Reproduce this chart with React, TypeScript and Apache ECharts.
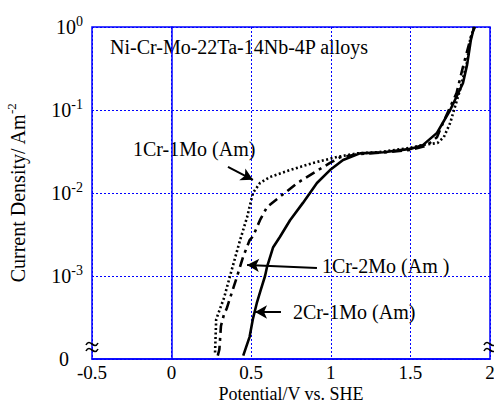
import React, { useEffect, useRef } from "react";
import * as echarts from "echarts";

const xTicks = [-0.5, 0, 0.5, 1, 1.5, 2];
const yDecades = [-4, -3, -2, -1, 0];

// 1Cr-1Mo (Am) dotted
const cr1mo1: [number, number][] = [
  [0.273, 1.2e-4], [0.28, 3e-4], [0.33, 5.5e-4], [0.367, 1e-3], [0.43, 2.7e-3],
  [0.474, 5.1e-3], [0.511, 1e-2], [0.555, 1.32e-2], [0.618, 1.56e-2], [0.744, 1.89e-2],
  [0.888, 2.3e-2], [1.039, 2.72e-2], [1.165, 3.0e-2], [1.3, 3.1e-2], [1.5, 3.5e-2],
  [1.58, 3.8e-2], [1.67, 4e-2], [1.71, 4.7e-2], [1.75, 7e-2], [1.81, 0.17],
  [1.855, 0.37], [1.875, 0.7], [1.9, 1.0],
];

// 1Cr-2Mo (Am) dash-dot
const cr1mo2: [number, number][] = [
  [0.29, 1.1e-4], [0.3, 1.3e-4], [0.31, 2.5e-4], [0.33, 3.5e-4], [0.345, 4e-4],
  [0.39, 7.4e-4], [0.41, 9.7e-4], [0.449, 1.7e-3], [0.49, 2.7e-3], [0.511, 3e-3],
  [0.555, 4.7e-3], [0.6, 6.8e-3], [0.68, 9e-3], [0.79, 1.32e-2], [0.89, 1.74e-2],
  [0.995, 2.3e-2], [1.06, 2.7e-2], [1.18, 2.95e-2], [1.35, 3.1e-2], [1.5, 3.3e-2],
  [1.6, 3.7e-2], [1.667, 4.7e-2], [1.705, 7e-2], [1.75, 0.109], [1.79, 0.16],
  [1.83, 0.33], [1.887, 0.85], [1.906, 1.0],
];

// 2Cr-1Mo (Am) solid
const cr2mo1: [number, number][] = [
  [0.45, 1.1e-4], [0.49, 1.85e-4], [0.51, 3e-4], [0.535, 4.7e-4], [0.56, 6.8e-4],
  [0.587, 1e-3], [0.6, 1.3e-3], [0.637, 2.2e-3], [0.68, 2.95e-3], [0.744, 4.7e-3],
  [0.825, 7.6e-3], [0.913, 1.32e-2], [0.995, 1.89e-2], [1.077, 2.5e-2], [1.183, 3.0e-2],
  [1.33, 3.1e-2], [1.5, 3.4e-2], [1.58, 3.8e-2], [1.667, 5.3e-2], [1.75, 0.1],
  [1.83, 0.21], [1.856, 0.35], [1.88, 0.7], [1.9, 1.0],
];

// annotation arrows [from, to] in data coordinates
const arrows: [[number, number], [number, number]][] = [
  [[0.354, 0.0206], [0.511, 0.0144]],
  [[0.913, 1.25e-3], [0.474, 1.36e-3]],
  [[0.687, 3.68e-4], [0.524, 3.68e-4]],
];

const FONT = "Liberation Serif";
const BLUE = "#0000ff";

function breakMark(cx: number, cy: number) {
  const wave = (y: number) => ({
    type: "bezierCurve",
    shape: { x1: cx - 6, y1: y + 1, x2: cx + 6, y2: y - 1, cpx1: cx - 2, cpy1: y - 7, cpx2: cx + 2, cpy2: y + 7 },
    style: { stroke: "#000", lineWidth: 1.6, fill: null },
    z: 10,
  });
  return [wave(cy - 3), wave(cy + 3)];
}

export default function App() {
  const ref = useRef<HTMLDivElement>(null);
  useEffect(() => {
    if (!ref.current) return;
    const chart = echarts.init(ref.current, null, { renderer: "svg" });
    const supRich = {
      b: { fontFamily: FONT, fontSize: 20, color: "#000" },
      s: { fontFamily: FONT, fontSize: 14, color: "#000", padding: [0, 0, 12, 0] },
      z: { fontFamily: FONT, fontSize: 20, color: "#000", padding: [0, 14, 0, 0] },
    };
    const option: any = {
      animation: false,
      backgroundColor: "#fff",
      textStyle: { fontFamily: FONT },
      grid: {
        left: 92, top: 27, width: 398, height: 332, containLabel: false,
        outerBoundsMode: "none",
        show: true, borderColor: BLUE, borderWidth: 1.5,
      },
      xAxis: {
        type: "value", min: -0.5, max: 2, interval: 0.5,
        name: "Potential/V vs. SHE", nameLocation: "middle", nameGap: 26,
        nameMoveOverlap: false,
        nameTextStyle: { fontFamily: FONT, fontSize: 18, lineHeight: 18, color: "#000" },
        axisLine: { show: true, lineStyle: { color: BLUE, width: 1.5 } },
        axisTick: { show: false },
        axisLabel: {
          fontFamily: FONT, fontSize: 19, lineHeight: 19, color: "#000", margin: 4,
          formatter: (v: number) => {
            const t = xTicks.find((x) => Math.abs(x - v) < 1e-9);
            return t === undefined ? "" : String(t);
          },
        },
        splitLine: { show: true, lineStyle: { color: BLUE, type: [2, 2], width: 1 } },
      },
      yAxis: {
        type: "log", logBase: 10, min: 1e-4, max: 1,
        name: "Current Density/ Am{s|-2}", nameLocation: "middle", nameGap: 62,
        nameMoveOverlap: false,
        nameRotate: 90,
        nameTextStyle: {
          fontFamily: FONT, fontSize: 20, color: "#000",
          rich: {
            s: { fontFamily: FONT, fontSize: 13, color: "#000", padding: [0, 0, 12, 0] },
          },
        },
        axisLine: { show: true, lineStyle: { color: BLUE, width: 1.5 } },
        axisTick: { show: false },
        axisLabel: {
          margin: 9,
          fontFamily: FONT,
          rich: supRich,
          formatter: (v: number) => {
            const e = Math.round(Math.log10(v));
            if (!yDecades.includes(e)) return "";
            if (e === -4) return "{z|0}";
            return `{b|10}{s|${e}}`;
          },
        },
        splitLine: { show: true, lineStyle: { color: BLUE, type: [2, 2], width: 1 } },
      },
      graphic: [
        { type: "text", left: 110, top: 37, style: { text: "Ni-Cr-Mo-22Ta-14Nb-4P alloys", font: `20px '${FONT}'`, fill: "#000" } },
        { type: "text", left: 133, top: 139, style: { text: "1Cr-1Mo (Am)", font: `20px '${FONT}'`, fill: "#000" } },
        { type: "text", left: 322, top: 256, style: { text: "1Cr-2Mo (Am )", font: `20px '${FONT}'`, fill: "#000" } },
        { type: "text", left: 293, top: 302, style: { text: "2Cr-1Mo (Am)", font: `20px '${FONT}'`, fill: "#000" } },
        ...breakMark(92, 347),
        ...breakMark(490, 347),
      ],
      series: [
        {
          type: "line", name: "1Cr-1Mo (Am)", data: cr1mo1, showSymbol: false,
          lineStyle: { color: "#000", width: 2.6, type: [2, 2.5] }, z: 3,
        },
        {
          type: "line", name: "1Cr-2Mo (Am)", data: cr1mo2, showSymbol: false,
          lineStyle: { color: "#000", width: 2.6, type: [10, 5, 3, 5] }, z: 3,
        },
        {
          type: "line", name: "2Cr-1Mo (Am)", data: cr2mo1, showSymbol: false,
          lineStyle: { color: "#000", width: 2.6 }, z: 3,
        },
        {
          type: "line", data: [], silent: true,
          markLine: {
            silent: true, animation: false,
            symbol: ["none", "arrow"], symbolSize: [10, 12],
            lineStyle: { color: "#000", width: 2, type: "solid" },
            label: { show: false },
            data: arrows.map(([a, b]) => [{ coord: a }, { coord: b }]),
          },
        },
      ],
    };
    chart.setOption(option);
    return () => chart.dispose();
  }, []);
  return <div ref={ref} style={{ width: 494, height: 405, position: "absolute", left: 0, top: 0 }} />;
}
